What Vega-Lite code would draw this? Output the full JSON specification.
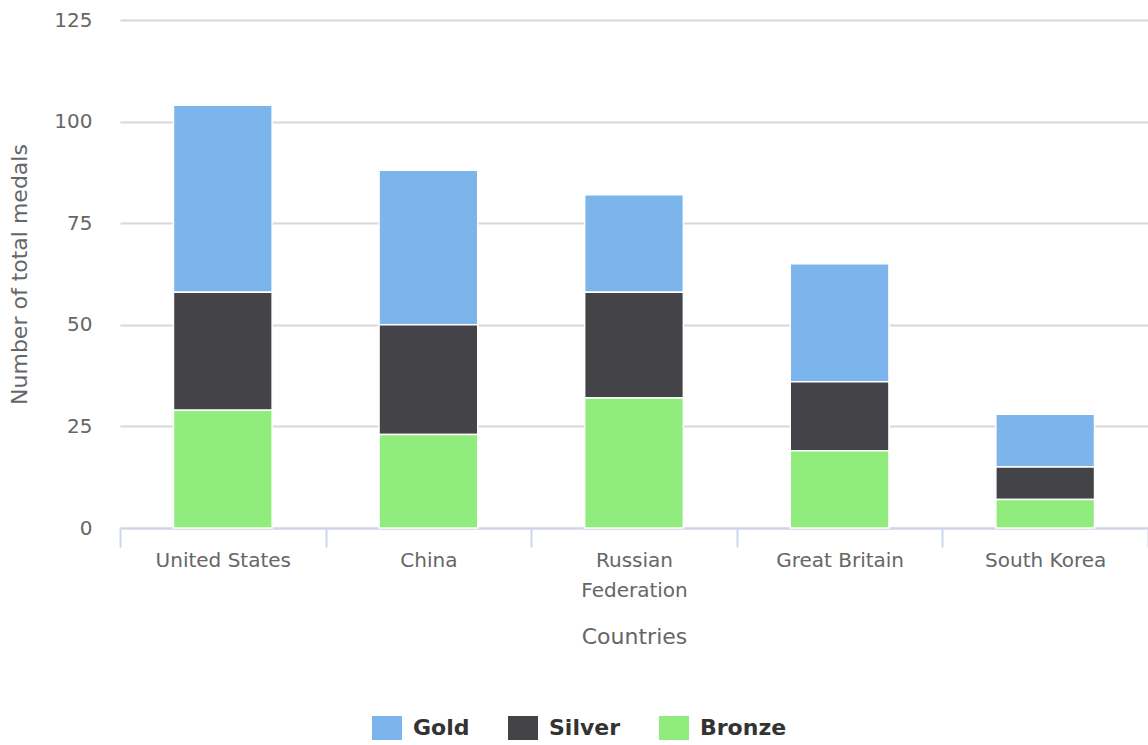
{
  "$schema": "https://vega.github.io/schema/vega-lite/v6.json",
  "width": 1028,
  "height": 508,
  "autosize": {"type": "none"},
  "padding": {"left": 120, "top": 20, "right": 0, "bottom": 217},
  "background": "white",
  "config": {
    "view": {"stroke": null},
    "font": "DejaVu Sans"
  },
  "data": {
    "values": [
      {"country": "United States", "medal": "Gold", "rank": 3, "count": 46},
      {"country": "United States", "medal": "Silver", "rank": 2, "count": 29},
      {"country": "United States", "medal": "Bronze", "rank": 1, "count": 29},
      {"country": "China", "medal": "Gold", "rank": 3, "count": 38},
      {"country": "China", "medal": "Silver", "rank": 2, "count": 27},
      {"country": "China", "medal": "Bronze", "rank": 1, "count": 23},
      {"country": "Russian Federation", "medal": "Gold", "rank": 3, "count": 24},
      {"country": "Russian Federation", "medal": "Silver", "rank": 2, "count": 26},
      {"country": "Russian Federation", "medal": "Bronze", "rank": 1, "count": 32},
      {"country": "Great Britain", "medal": "Gold", "rank": 3, "count": 29},
      {"country": "Great Britain", "medal": "Silver", "rank": 2, "count": 17},
      {"country": "Great Britain", "medal": "Bronze", "rank": 1, "count": 19},
      {"country": "South Korea", "medal": "Gold", "rank": 3, "count": 13},
      {"country": "South Korea", "medal": "Silver", "rank": 2, "count": 8},
      {"country": "South Korea", "medal": "Bronze", "rank": 1, "count": 7}
    ]
  },
  "mark": {"type": "bar", "stroke": "white", "strokeWidth": 1.5, "width": {"band": 0.48}},
  "encoding": {
    "x": {
      "field": "country",
      "type": "nominal",
      "sort": ["United States", "China", "Russian Federation", "Great Britain", "South Korea"],
      "scale": {"paddingInner": 0, "paddingOuter": 0},
      "axis": {
        "title": "Countries",
        "titleFont": "DejaVu Sans",
        "titleFontSize": 22,
        "titleFontWeight": "normal",
        "titleColor": "#666666",
        "titlePadding": 26,
        "labelAngle": 0,
        "labelFont": "DejaVu Sans",
        "labelFontSize": 20,
        "labelColor": "#666666",
        "labelPadding": 3,
        "labelLineHeight": 30,
        "labelExpr": "datum.label == 'Russian Federation' ? ['Russian', 'Federation'] : datum.label",
        "tickBand": "extent",
        "tickSize": 19,
        "tickColor": "#ccd6eb",
        "tickWidth": 2,
        "domainColor": "#ccd6eb",
        "domainWidth": 2,
        "grid": false
      }
    },
    "y": {
      "field": "count",
      "type": "quantitative",
      "aggregate": "sum",
      "stack": "zero",
      "scale": {"domain": [0, 125], "nice": false},
      "axis": {
        "title": "Number of total medals",
        "titleFont": "DejaVu Sans",
        "titleFontSize": 22,
        "titleFontWeight": "normal",
        "titleColor": "#666666",
        "titlePadding": 22,
        "values": [0, 25, 50, 75, 100, 125],
        "labelFont": "DejaVu Sans",
        "labelFontSize": 20,
        "labelColor": "#666666",
        "labelPadding": 28,
        "tickSize": 0,
        "ticks": false,
        "domain": false,
        "grid": true,
        "gridColor": "#d8d8d8",
        "gridWidth": 2
      }
    },
    "color": {
      "field": "medal",
      "type": "nominal",
      "scale": {"domain": ["Gold", "Silver", "Bronze"], "range": ["#7cb5ec", "#434348", "#90ed7d"]},
      "legend": {
        "title": null,
        "orient": "none",
        "direction": "horizontal",
        "legendX": 252,
        "legendY": 693,
        "symbolType": "M-1,-0.8L1,-0.8L1,0.8L-1,0.8Z",
        "symbolSize": 900,
        "symbolStrokeWidth": 0,
        "labelFont": "DejaVu Sans",
        "labelFontSize": 22,
        "labelFontWeight": "bold",
        "labelColor": "#333333",
        "labelOffset": 11,
        "columnPadding": 38,
        "padding": 0
      }
    },
    "order": {"field": "rank", "type": "quantitative", "sort": "ascending"}
  }
}
